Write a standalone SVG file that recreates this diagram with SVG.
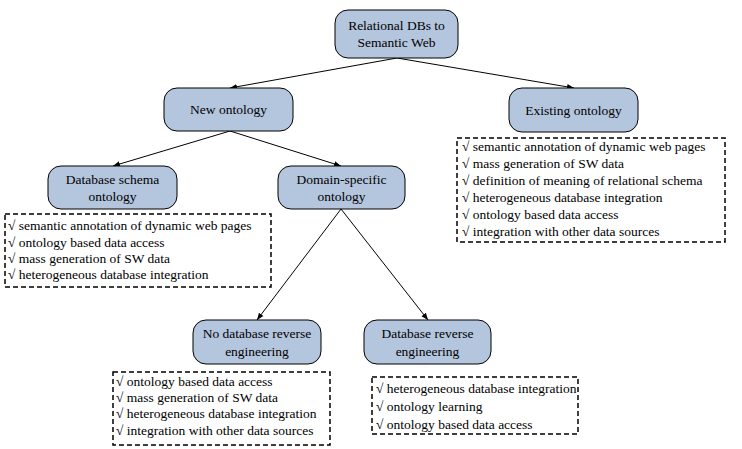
<svg xmlns="http://www.w3.org/2000/svg" width="742" height="449" viewBox="0 0 742 449">
<style>
.node{fill:#b4c5de;stroke:#000;stroke-width:1}
text{font-family:"Liberation Serif","Tinos","Nimbus Roman","Times New Roman","DejaVu Serif",serif;font-size:13.5px;fill:#000}
.c{text-anchor:middle}
.list{fill:#fff;stroke:#000;stroke-width:1.5;stroke-dasharray:5,3}
.edge{stroke:#000;stroke-width:1;fill:none;marker-end:url(#ah)}
</style>
<defs>
<marker id="ah" viewBox="0 0 10 10" refX="10" refY="5" markerWidth="7" markerHeight="7" orient="auto" markerUnits="userSpaceOnUse">
<path d="M0,1 L10,5 L0,9 z" fill="#000"/>
</marker>
</defs>
<rect width="742" height="449" fill="#fff"/>
<g id="connectors">
<line class="edge" x1="397" y1="58" x2="230" y2="88"/>
<line class="edge" x1="397" y1="58" x2="574" y2="88"/>
<line class="edge" x1="230" y1="131" x2="113" y2="166"/>
<line class="edge" x1="230" y1="131" x2="341" y2="166"/>
<line class="edge" x1="341" y1="209" x2="257" y2="320"/>
<line class="edge" x1="341" y1="209" x2="428" y2="320"/>
</g>
<g id="root">
<rect class="node" x="335" y="10" width="123" height="48" rx="13"/>
<text class="c" x="396.5" y="30">Relational DBs to</text>
<text class="c" x="396.5" y="47">Semantic Web</text>
</g>
<g id="new-ontology">
<rect class="node" x="164" y="88" width="129" height="43" rx="13"/>
<text class="c" x="228.5" y="114">New ontology</text>
</g>
<g id="existing-ontology">
<rect class="node" x="509" y="88" width="129" height="44" rx="13"/>
<text class="c" x="573.5" y="115">Existing ontology</text>
</g>
<g id="existing-list">
<rect class="list" x="457" y="138" width="268" height="104"/>
<text x="462" y="151">√ semantic annotation of dynamic web pages</text>
<text x="462" y="168">√ mass generation of SW data</text>
<text x="462" y="185">√ definition of meaning of relational schema</text>
<text x="462" y="202">√ heterogeneous database integration</text>
<text x="462" y="219">√ ontology based data access</text>
<text x="462" y="236">√ integration with other data sources</text>
</g>
<g id="db-schema-ontology">
<rect class="node" x="48" y="166" width="129" height="43" rx="13"/>
<text class="c" x="112.5" y="184">Database schema</text>
<text class="c" x="112.5" y="201">ontology</text>
</g>
<g id="domain-specific-ontology">
<rect class="node" x="278" y="166" width="127" height="43" rx="13"/>
<text class="c" x="341.5" y="184">Domain-specific</text>
<text class="c" x="341.5" y="201">ontology</text>
</g>
<g id="db-schema-list">
<rect class="list" x="5" y="214" width="266" height="73"/>
<text x="8" y="230">√ semantic annotation of dynamic web pages</text>
<text x="8" y="247">√ ontology based data access</text>
<text x="8" y="263">√ mass generation of SW data</text>
<text x="8" y="279">√ heterogeneous database integration</text>
</g>
<g id="no-db-reverse-engineering">
<rect class="node" x="193" y="320" width="128" height="44" rx="13"/>
<text class="c" x="257" y="338">No database reverse</text>
<text class="c" x="257" y="356">engineering</text>
</g>
<g id="db-reverse-engineering">
<rect class="node" x="364" y="320" width="127" height="44" rx="13"/>
<text class="c" x="427.5" y="338">Database reverse</text>
<text class="c" x="427.5" y="356">engineering</text>
</g>
<g id="no-db-re-list">
<rect class="list" x="113" y="372" width="217" height="73"/>
<text x="116" y="386">√ ontology based data access</text>
<text x="116" y="402">√ mass generation of SW data</text>
<text x="116" y="418">√ heterogeneous database integration</text>
<text x="116" y="435">√ integration with other data sources</text>
</g>
<g id="db-re-list">
<rect class="list" x="372" y="377" width="206" height="57"/>
<text x="376" y="393">√ heterogeneous database integration</text>
<text x="376" y="411">√ ontology learning</text>
<text x="376" y="429">√ ontology based data access</text>
</g>
</svg>
